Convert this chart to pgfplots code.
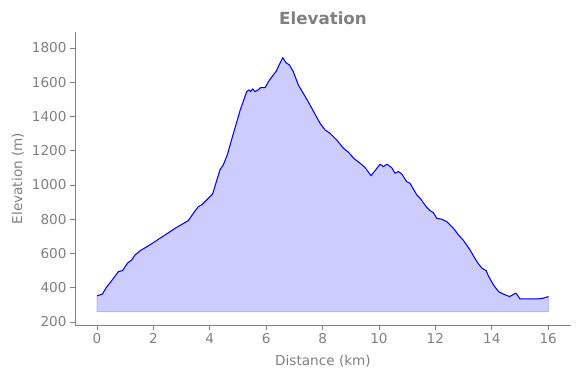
\documentclass[border=0pt]{standalone}
\usepackage{pgfplots}
\pgfplotsset{compat=1.18}
\usepackage{pgfplotstable}
\usepgfplotslibrary{fillbetween}
\usepackage{fontspec}
\setmainfont{DejaVu Sans}
\definecolor{txtgray}{RGB}{128,128,128}
\definecolor{spinegray}{RGB}{128,128,128}
\pgfplotstableread{
x y
0 352
0.19 363
0.34 403
0.52 441
0.76 494
0.91 500
1.08 543
1.23 562
1.35 591
1.53 616
1.88 650
2.18 683
2.47 714
2.77 747
3.12 780
3.24 792
3.42 835
3.59 873
3.71 883
3.89 912
4.10 947
4.36 1088
4.48 1117
4.62 1175
4.84 1302
5.08 1438
5.31 1545
5.39 1555
5.45 1545
5.52 1561
5.60 1545
5.72 1555
5.80 1568
5.96 1568
6.08 1603
6.25 1642
6.35 1662
6.49 1711
6.59 1743
6.70 1714
6.82 1701
6.96 1662
7.14 1584
7.49 1486
7.91 1360
8.09 1321
8.26 1302
8.50 1263
8.74 1214
8.91 1192
9.12 1153
9.33 1127
9.51 1101
9.72 1054
10.04 1121
10.16 1107
10.28 1121
10.45 1101
10.57 1068
10.69 1078
10.81 1064
10.98 1019
11.10 1010
11.34 942
11.46 922
11.69 870
11.81 850
11.93 838
12.05 805
12.22 800
12.40 786
12.64 747
12.82 708
13.00 675
13.23 620
13.47 552
13.65 514
13.80 500
13.88 469
14.06 416
14.24 377
14.41 363
14.63 348
14.74 358
14.86 368
15.00 334
15.60 334
15.81 338
16.01 348
}\elev
\begin{document}
\begin{tikzpicture}
\begin{axis}[
  name=ax,
  scale only axis,
  width=496pt, height=293pt,
  xmin=-0.78, xmax=16.81,
  ymin=182, ymax=1893,
  axis x line*=bottom, axis y line*=left,
  axis line style={spinegray, line width=0.8pt},
  xtick={0,2,...,16},
  ytick={200,400,...,1800},
  tick align=outside,
  major tick length=5pt,
  tick style={spinegray, line width=0.8pt},
  /pgf/number format/assume math mode=true,
  /pgf/number format/set thousands separator={},
  ticklabel style={font=\fontsize{13.6}{16}\selectfont, text=txtgray},
  xlabel={Distance (km)},
  ylabel={Elevation (m)},
  label style={font=\fontsize{13.6}{16}\selectfont, text=txtgray},
  xlabel style={yshift=-4pt},
  ylabel style={yshift=1pt},
  title={Elevation},
  title style={font=\fontsize{16.7}{19}\selectfont\bfseries, text=txtgray, yshift=-2pt},
  clip=false,
]
\addplot[name path=A, draw=none, forget plot] table[x=x,y=y]{\elev};
\addplot[name path=B, draw=none, forget plot] coordinates {(0,260) (16.01,260)};
\addplot[fill=blue, fill opacity=0.2, draw=blue, draw opacity=0.2, line width=0.8pt] fill between[of=A and B];
\addplot[blue, line width=1.0pt, line join=round] table[x=x,y=y]{\elev};
\end{axis}
\pgfresetboundingbox
\useasboundingbox ([xshift=-75pt,yshift=-53pt]ax.south west) rectangle ([xshift=9pt,yshift=32pt]ax.north east);
\end{tikzpicture}
\end{document}
